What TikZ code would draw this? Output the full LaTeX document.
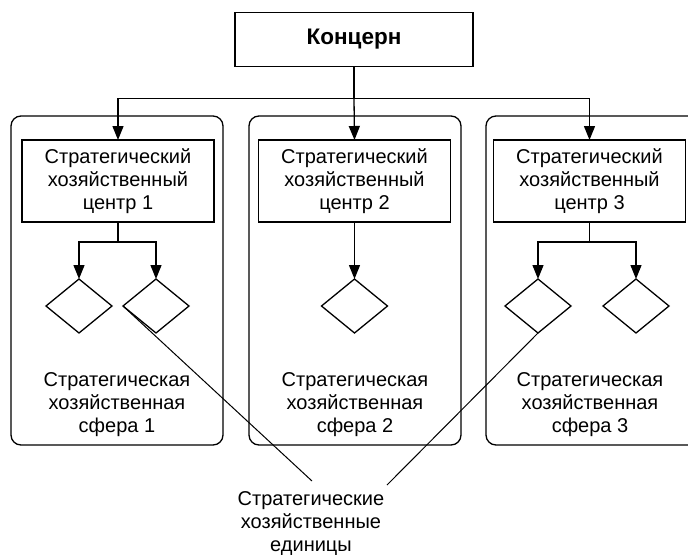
\documentclass[tikz,border=0pt]{standalone}
\usepackage{fontspec}
\setmainfont{Liberation Sans}
\usetikzlibrary{shapes.geometric,arrows.meta}
\begin{document}
\begin{tikzpicture}[x=1pt,y=-1pt,
  every node/.style={inner sep=0pt,outer sep=0pt},
  line/.style={line width=1.3pt,black},
  arr/.style={line,-{Triangle[length=14pt,width=11pt]}},
  headbox/.style={draw,line width=1.3pt,rectangle,minimum width=238pt,minimum height=54pt,
    font=\fontsize{22.5}{26}\selectfont\bfseries},
  sphere/.style={draw,line width=1.3pt,rectangle,rounded corners=10pt,minimum width=212pt,minimum height=329pt},
  centerbox/.style={draw,line width=1.3pt,rectangle,minimum width=192pt,minimum height=82pt,
    align=center,font=\fontsize{20}{23.3}\selectfont},
  unit/.style={draw,line width=1.3pt,diamond,minimum width=66pt,minimum height=54pt},
  caption/.style={align=center,font=\fontsize{20}{23}\selectfont}]
  \clip (0,0) rectangle (688,555);
  \fill[white] (0,0) rectangle (688,555);

  % head of the concern
  \node[headbox] (top) at (354,39.5) {Концерн};

  % strategic spheres
  \node[sphere] (s1) at (117,280.5) {};
  \node[sphere] (s2) at (355,280.5) {};
  \node[sphere] (s3) at (592,280.5) {};

  % strategic centres
  \node[centerbox] (c1) at (118,181) {Стратегический\\хозяйственный\\центр 1};
  \node[centerbox] (c2) at (354.5,181) {Стратегический\\хозяйственный\\центр 2};
  \node[centerbox] (c3) at (589.5,181) {Стратегический\\хозяйственный\\центр 3};

  % strategic business units
  \node[unit] (d11) at (79,306) {};
  \node[unit] (d12) at (156,306) {};
  \node[unit] (d21) at (354.5,306) {};
  \node[unit] (d31) at (538,306) {};
  \node[unit] (d32) at (636,306) {};

  % sphere captions
  \node[caption] (t1) at (117,405) {Стратегическая\\хозяйственная\\сфера 1};
  \node[caption] (t2) at (355,405) {Стратегическая\\хозяйственная\\сфера 2};
  \node[caption] (t3) at (590,405) {Стратегическая\\хозяйственная\\сфера 3};

  % common caption for the units
  \node[caption] (lbl) at (311,523) {Стратегические\\хозяйственные\\единицы};

  % concern to centres
  \draw[line] (top.south) -- ++(0,32) coordinate (bus);
  \draw[arr] (bus) -| (c1.north);
  \draw[arr] (bus) -- (c2.north);
  \draw[arr] (bus) -| (c3.north);

  % centres to units
  \draw[line] (c1.south) -- ++(0,20) coordinate (b1);
  \draw[arr] (b1) -| (d11.north);
  \draw[arr] (b1) -| (d12.north);
  \draw[arr] (c2.south) -- (d21.north);
  \draw[line] (c3.south) -- ++(0,20) coordinate (b3);
  \draw[arr] (b3) -| (d31.north);
  \draw[arr] (b3) -| (d32.north);

  % caption leaders
  \coordinate (e1) at (312,481);
  \coordinate (e2) at (387,485);
  \draw[line,line width=1pt] (d12.west) -- (e1);
  \draw[line,line width=1pt] (d31.south) -- (e2);
\end{tikzpicture}
\end{document}
